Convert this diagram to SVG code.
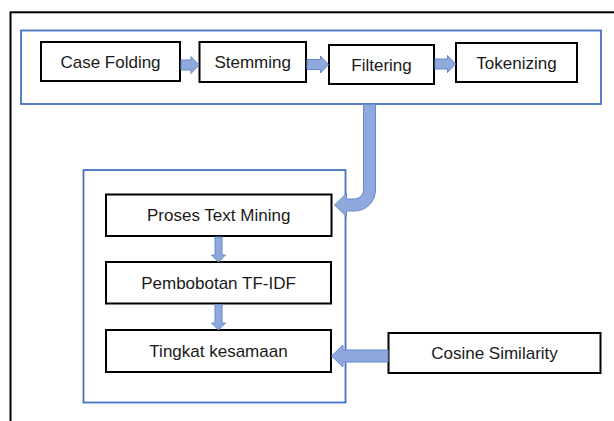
<svg xmlns="http://www.w3.org/2000/svg" width="614" height="421" viewBox="0 0 614 421">
  <style>
    .frame { fill: none; stroke: #000; stroke-width: 2; }
    .group { fill: none; stroke: #4472c4; stroke-width: 1.8; }
    .box { fill: #fff; stroke: #000; stroke-width: 2; }
    .label { font-family: "Liberation Sans", Arial, sans-serif; font-size: 17px; fill: #1a1a1a; text-anchor: middle; }
    .arrow { fill: #8fa9dc; stroke: #6688cc; stroke-width: 1; stroke-linejoin: miter; }
  </style>

  <rect width="614" height="421" fill="#fff"/>

  <!-- outer page frame (runs off the right and bottom edges) -->
  <rect class="frame" x="10.5" y="12.3" width="620" height="430"/>

  <!-- grouping panels -->
  <g id="preprocessing-panel">
    <rect class="group" x="21" y="30.5" width="580" height="73.5"/>
  </g>
  <g id="analysis-panel">
    <rect class="group" x="83.5" y="170" width="262" height="232.5"/>
  </g>

  <!-- nodes -->
  <g id="case-folding">
    <rect class="box" x="41" y="42" width="139" height="39"/>
    <text class="label" x="110.5" y="68">Case Folding</text>
  </g>
  <g id="stemming">
    <rect class="box" x="199.5" y="42" width="106.5" height="40"/>
    <text class="label" x="252.7" y="68">Stemming</text>
  </g>
  <g id="filtering">
    <rect class="box" x="329" y="45" width="105" height="39"/>
    <text class="label" x="381.5" y="71">Filtering</text>
  </g>
  <g id="tokenizing">
    <rect class="box" x="456" y="43" width="121" height="39"/>
    <text class="label" x="516.5" y="68.5">Tokenizing</text>
  </g>
  <g id="proses-text-mining">
    <rect class="box" x="106" y="194.5" width="225.5" height="41.5"/>
    <text class="label" x="218.7" y="221">Proses Text Mining</text>
  </g>
  <g id="pembobotan-tf-idf">
    <rect class="box" x="106" y="262" width="225" height="41.5"/>
    <text class="label" x="218.5" y="288.5">Pembobotan TF-IDF</text>
  </g>
  <g id="tingkat-kesamaan">
    <rect class="box" x="106" y="330" width="225" height="42"/>
    <text class="label" x="218.5" y="356.5">Tingkat kesamaan</text>
  </g>
  <g id="cosine-similarity">
    <rect class="box" x="388.5" y="333" width="212" height="40"/>
    <text class="label" x="494.5" y="359">Cosine Similarity</text>
  </g>

  <!-- connectors (block arrows) -->
  <g id="connectors">
    <!-- Case Folding -> Stemming -->
    <path class="arrow" d="M181,60 H191 V56.5 L199,65 L191,73.5 V70 H181 Z"/>
    <!-- Stemming -> Filtering -->
    <path class="arrow" d="M307,59.5 H320.5 V56 L328.5,64.5 L320.5,73 V69.5 H307 Z"/>
    <!-- Filtering -> Tokenizing -->
    <path class="arrow" d="M435,59 H447.5 V55.5 L455.5,64 L447.5,72.5 V69 H435 Z"/>
    <!-- preprocessing panel -> Proses Text Mining (bent arrow) -->
    <path class="arrow" d="M363.5,104.5 H375.5 V190 A21,21 0 0 1 354.5,211 H346.5 V216.5 L334.5,205 L346.5,193.5 V199 H354.5 A9,9 0 0 0 363.5,190 Z"/>
    <!-- Proses Text Mining -> Pembobotan TF-IDF -->
    <path class="arrow" d="M215,237 H222 V255 H225.5 L218.5,262 L211.5,255 H215 Z"/>
    <!-- Pembobotan TF-IDF -> Tingkat kesamaan -->
    <path class="arrow" d="M215,304.5 H222 V323 H225.5 L218.5,330 L211.5,323 H215 Z"/>
    <!-- Cosine Similarity -> Tingkat kesamaan -->
    <path class="arrow" d="M388,350 V362 H343 V367 L331.5,356 L343,345 V350 Z"/>
  </g>
</svg>
